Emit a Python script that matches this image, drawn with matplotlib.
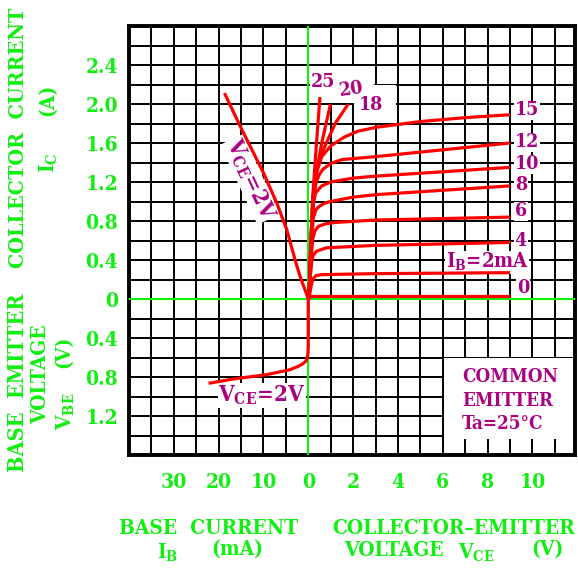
import numpy as np
import matplotlib
matplotlib.use('Agg')
import matplotlib.pyplot as plt
from matplotlib.patches import Rectangle
from matplotlib.ticker import MultipleLocator

plt.rcParams['font.family'] = 'DejaVu Serif'
plt.rcParams['font.weight'] = 'bold'
plt.rcParams['font.stretch'] = 'condensed'
plt.rcParams['mathtext.fontset'] = 'custom'
plt.rcParams['mathtext.rm'] = 'DejaVu Serif:bold'
plt.rcParams['mathtext.default'] = 'rm'

GREEN = '#11ee11'
MAGENTA = '#aa0082'
RED = '#ff0000'

# value of one grid cell in each quadrant
VCE_CELL = 1.0   # V
IB_CELL = 5.0    # mA
IC_CELL = 0.2    # A
VBE_CELL = 0.2   # V

# output characteristics IC(VCE), one curve per base current (mA)
ib_levels = [0, 2, 4, 6, 8, 10, 12, 15, 18, 20, 25]
vce_curves = [
    [0, 9],
    [0.03, 0.1, 0.15, 0.22, 0.35, 0.6, 3, 9],
    [0.03, 0.1, 0.15, 0.22, 0.37, 0.8, 3, 9],
    [0.03, 0.12, 0.2, 0.3, 0.45, 0.75, 1.2, 3, 9],
    [0.03, 0.12, 0.22, 0.35, 0.52, 0.75, 1, 2, 3, 5, 9],
    [0.03, 0.12, 0.22, 0.33, 0.6, 1, 2, 3, 9],
    [0.03, 0.12, 0.25, 0.35, 0.5, 0.65, 1, 1.5, 3, 9],
    [0.03, 0.12, 0.22, 0.37, 0.6, 1, 1.6, 2.2, 3, 4, 5, 7, 9],
    [0.03, 0.12, 0.2, 0.38, 0.67, 1.2, 1.78],
    [0.03, 0.12, 0.2, 0.35, 0.6, 0.99],
    [0.03, 0.12, 0.19, 0.35, 0.52],
]
ic_curves = [
    [0.03, 0.03],
    [0, 0.1, 0.16, 0.21, 0.24, 0.25, 0.26, 0.27],
    [0, 0.25, 0.38, 0.45, 0.49, 0.525, 0.55, 0.58],
    [0, 0.4, 0.62, 0.7, 0.745, 0.77, 0.785, 0.81, 0.84],
    [0, 0.5, 0.83, 0.92, 0.955, 0.985, 1.0, 1.045, 1.07, 1.1, 1.16],
    [0, 0.55, 0.98, 1.09, 1.16, 1.2, 1.24, 1.26, 1.35],
    [0, 0.58, 1.05, 1.2, 1.28, 1.33, 1.39, 1.43, 1.46, 1.60],
    [0, 0.6, 1.05, 1.30, 1.46, 1.57, 1.66, 1.72, 1.76, 1.79, 1.82, 1.86, 1.89],
    [0, 0.6, 1.03, 1.32, 1.53, 1.8, 2.0],
    [0, 0.6, 1.03, 1.28, 1.6, 2.0],
    [0, 0.62, 1.02, 1.55, 2.07],
]

# IC(IB) at VCE=2V
ib_transfer = [0, 1.85, 3.0, 4.81, 7.0, 10.0, 15.2, 18.55]
ic_transfer = [0, 0.234, 0.41, 0.713, 0.98, 1.294, 1.772, 2.097]

# VBE(IB) at VCE=2V
ib_input = [0, 0, 0.08, 0.25, 0.6, 1.1, 2.2, 4.1, 9.3, 16.7, 21.9]
vbe_input = [0, 0.48, 0.56, 0.61, 0.64, 0.66, 0.69, 0.725, 0.776, 0.82, 0.862]

ib_ticks = [30, 20, 10]
vce_ticks = [0, 2, 4, 6, 8, 10]
ic_ticks = [0, 0.4, 0.8, 1.2, 1.6, 2.0, 2.4]
vbe_ticks = [0.4, 0.8, 1.2]


def xv(v):
    return np.asarray(v, float) / VCE_CELL

def xib(ib):
    return -np.asarray(ib, float) / IB_CELL

def yic(ic):
    return np.asarray(ic, float) / IC_CELL

def yvbe(vbe):
    return -np.asarray(vbe, float) / VBE_CELL


W, H = 578, 569
fig = plt.figure(figsize=(W / 100, H / 100), dpi=100)
ax = fig.add_axes([129 / W, 1 - 455 / H, 446 / W, 429 / H])
ax.set_xlim(-8, 11.9)
ax.set_ylim(-8, 14)

ax.xaxis.set_minor_locator(MultipleLocator(1))
ax.yaxis.set_minor_locator(MultipleLocator(1))
ax.set_axisbelow(True)
ax.grid(which='both', color='black', lw=1.4)
for s in ax.spines.values():
    s.set_linewidth(2.8)

xt = list(xib(ib_ticks)) + list(xv(vce_ticks))
xl = [str(v) for v in ib_ticks] + [str(v) for v in vce_ticks]
ax.set_xticks(xt, xl)
yt = list(yic(ic_ticks)) + list(yvbe(vbe_ticks))
yl = ['0' if v == 0 else '%.1f' % v for v in ic_ticks] + ['%.1f' % v for v in vbe_ticks]
ax.set_yticks(yt, yl)
ax.tick_params(which='both', length=0, labelcolor=GREEN, labelsize=15)
ax.tick_params(axis='x', pad=12.5)
ax.tick_params(axis='y', pad=8)

# white areas behind labels
for (x0, y0, w, h) in [(6.05, -7.2, 5.9, 4.15), (0.07, 10.05, 2.88, 1.9), (2.05, 9.05, 1.88, 1.9)]:
    ax.add_patch(Rectangle((x0, y0), w, h, facecolor='white', edgecolor='none', zorder=1))

ax.axhline(0, color=GREEN, lw=1.5, zorder=2.6)
ax.axvline(0, color=GREEN, lw=1.5, zorder=2.6)

for v, i in zip(vce_curves, ic_curves):
    ax.plot(xv(v), yic(i), color=RED, lw=2.3, zorder=3, solid_capstyle='butt')
ax.plot(xib(ib_transfer), yic(ic_transfer), color=RED, lw=2.3, zorder=3)
ax.plot(xib(ib_input), yvbe(vbe_input), color=RED, lw=2.3, zorder=3)

box = dict(facecolor='white', edgecolor='none', pad=0.5)
lab = dict(color=MAGENTA, zorder=2.5, bbox=box)
for t, x, y in [('15', 9.21, 9.67), ('12', 9.21, 8.03), ('10', 9.21, 6.9),
                ('8', 9.21, 5.87), ('6', 9.21, 4.49), ('4', 9.21, 2.95),
                ('0', 9.3, 0.54)]:
    ax.text(x, y, t, ha='left', va='center', fontsize=14, **lab)
ax.text(6.13, 1.88, 'I$_{B}$=2mA', ha='left', va='center', fontsize=14.5, **lab)
for t, x, y, r in [('25', 0.68, 11.15, 0), ('20', 1.9, 10.74, 8), ('18', 2.82, 9.97, 0)]:
    ax.text(x, y, t, ha='center', va='center', rotation=r, fontsize=14, **lab)
ax.text(-2.6, 6.13, 'V$_{CE}$=2V', ha='center', va='center', rotation=-65,
        rotation_mode='anchor', fontsize=16, **lab)
ax.text(-4.02, -4.95, 'V$_{CE}$=2V', ha='left', va='center', fontsize=16, **lab)
ax.text(6.86, -5.22, 'COMMON\nEMITTER\nTa=25°C', ha='left', va='center',
        color=MAGENTA, fontsize=13.5, linespacing=1.38, zorder=2.5)


def ftext(px, py, s, rot=0, size=15):
    fig.text(px / W, 1 - py / H, s, rotation=rot, ha='center', va='center',
             color=GREEN, fontsize=size)


ftext(18, 137.5, 'COLLECTOR  CURRENT', 90, 15.4)
ftext(47, 100, '(A)', 90)
ftext(49, 163, 'I$_{C}$', 90)
ftext(18, 383, 'BASE  EMITTER', 90, 15.6)
ftext(40, 374, 'VOLTAGE', 90)
ftext(63, 352, '(V)', 90)
ftext(66, 411, 'V$_{BE}$', 90)
ftext(209, 528, 'BASE  CURRENT')
ftext(168, 553, 'I$_{B}$')
ftext(237, 549, '(mA)')
ftext(454, 528, 'COLLECTOR–EMITTER')
ftext(394, 550, 'VOLTAGE')
ftext(476, 553, 'V$_{CE}$')
ftext(547, 549, '(V)')

fig.savefig('out.png', dpi=100)
